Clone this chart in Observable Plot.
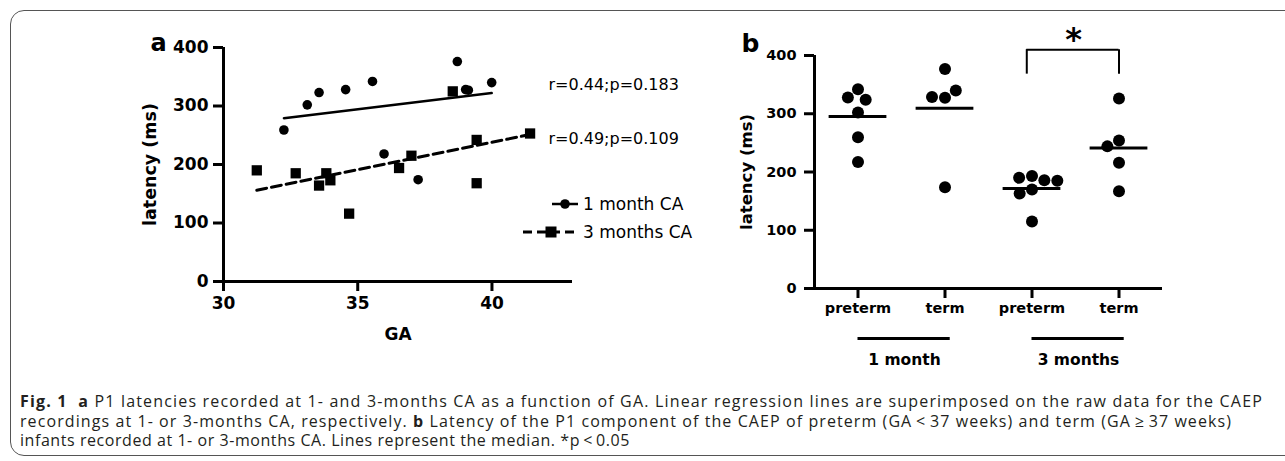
<!DOCTYPE html>
<html><head><meta charset="utf-8">
<script src="https://cdn.jsdelivr.net/npm/d3@7"></script>
<script src="https://cdn.jsdelivr.net/npm/@observablehq/plot@0.6"></script>
<style>
html,body{margin:0;padding:0;background:#fff;}
#wrap{position:relative;width:1285px;height:461px;overflow:hidden;background:#fff;}
#box{position:absolute;left:10px;top:10px;width:1330px;height:446px;border:1px solid #555;border-radius:14px;box-sizing:border-box;}
#pa{position:absolute;left:0;top:0;width:700px;height:340px;}
#pb{position:absolute;left:700px;top:0;}
#cap{position:absolute;left:20px;top:392px;font-family:"Open Sans";font-size:16px;line-height:19.5px;color:#231f20;white-space:nowrap;}
#cap div{white-space:nowrap;display:block;}
#cap span.l{display:inline-block;}
</style></head><body>
<div id="wrap"><div id="box"></div><div id="pa"></div><div id="pb"></div>
<div id="cap">
<div><span class="l" data-w="1243"><b>Fig. 1</b>&nbsp; <b>a</b> P1 latencies recorded at 1- and 3-months CA as a function of GA. Linear regression lines are superimposed on the raw data for the CAEP</span></div>
<div><span class="l" data-w="1212">recordings at 1- or 3-months CA, respectively. <b>b</b> Latency of the P1 component of the CAEP of preterm (GA&#8201;&lt;&#8201;37 weeks) and term (GA&#8201;&ge;&#8201;37 weeks)</span></div>
<div><span class="l" data-w="610">infants recorded at 1- or 3-months CA. Lines represent the median. *p&#8201;&lt;&#8201;0.05</span></div>
</div>
</div>
<script>
// ---------- Panel a data ----------
const gaMonth1 = [32.25, 33.12, 33.56, 34.55, 35.55, 35.98, 37.25, 38.71, 39.02, 39.12, 39.99];
const latMonth1 = [259, 302, 323, 328, 342, 218, 174, 376, 328, 327, 340];
const gaMonth3 = [31.24, 32.69, 33.56, 33.83, 33.98, 34.68, 36.54, 37.0, 38.54, 39.43, 39.43, 41.42];
const latMonth3 = [190, 185, 164, 185, 173, 116, 194, 215, 325, 242, 168, 253];
const xTicksA = [30, 35, 40];
const yTicks = [0, 100, 200, 300, 400];
const statLabels = ["r=0.44;p=0.183", "r=0.49;p=0.109"];
const legendLabels = ["1 month CA", "3 months CA"];

// ---------- Panel b data ----------
const ageGroups = ["1 month", "3 months"];
const termGroups = ["preterm", "term"];
const pre1 = [342, 328, 324, 302, 259.5, 217];
const term1 = [377, 327.6, 328.6, 340, 174];
const pre3 = [115, 170, 163, 193, 190, 186, 185];
const term3 = [326, 254, 167, 244, 216];
const sigLabel = "*";
const sigTop = 410, sigLow = 368;

const FONT = "DejaVu Sans";

// ---------- Panel a ----------
const m1 = gaMonth1.map((g, i) => ({ga: g, lat: latMonth1[i]}));
const m3 = gaMonth3.map((g, i) => ({ga: g, lat: latMonth3[i]}));

const pa = Plot.plot({
  width: 700, height: 340,
  marginLeft: 223, marginRight: 128, marginTop: 47, marginBottom: 59,
  style: {fontFamily: FONT, background: "transparent", overflow: "visible", color: "black"},
  x: {domain: [30, 43]},
  y: {domain: [0, 400]},
  marks: [
    Plot.ruleX([30], {y1: 0, y2: 400, strokeWidth: 3}),
    Plot.ruleY([0], {x1: 30, x2: 43, strokeWidth: 3}),
    Plot.axisX({ticks: xTicksA, tickSize: 10, tickPadding: 5, strokeWidth: 3, fontSize: 17, fontWeight: "bold", label: null}),
    Plot.axisY({ticks: yTicks, tickSize: 10, tickPadding: 5, strokeWidth: 3, fontSize: 17, fontWeight: "bold", label: null}),
    Plot.linearRegressionY(m1, {x: "ga", y: "lat", ci: 0, stroke: "black", strokeWidth: 2.5}),
    Plot.linearRegressionY(m3, {x: "ga", y: "lat", ci: 0, stroke: "black", strokeWidth: 3, strokeDasharray: "10,5"}),
    Plot.dot(m1, {x: "ga", y: "lat", r: 4.8, fill: "black"}),
    Plot.dot(m3, {x: "ga", y: "lat", r: 5.8, symbol: "square", fill: "black"}),
    Plot.text(["GA"], {frameAnchor: "bottom", textAnchor: "middle", lineAnchor: "middle", dy: 53, fontSize: 17, fontWeight: "bold"}),
    Plot.text(["latency (ms)"], {frameAnchor: "left", textAnchor: "middle", lineAnchor: "middle", dx: -73, rotate: -90, fontSize: 17.5, fontWeight: "bold"}),
    Plot.text(["a"], {frameAnchor: "top-left", textAnchor: "middle", lineAnchor: "middle", dx: -65, dy: -4, fontSize: 24, fontWeight: "bold"}),
    Plot.text([statLabels[0]], {frameAnchor: "top-right", textAnchor: "start", lineAnchor: "middle", dx: -24, dy: 37, fontSize: 16}),
    Plot.text([statLabels[1]], {frameAnchor: "top-right", textAnchor: "start", lineAnchor: "middle", dx: -24, dy: 91, fontSize: 16})
  ]
});
document.getElementById("pa").appendChild(pa);

// legend overlay (inside panel a)
const leg = d3.select("#pa").append("svg")
  .attr("width", 700).attr("height", 340)
  .style("position", "absolute").style("left", "0px").style("top", "0px")
  .style("pointer-events", "none");
leg.append("line").attr("x1", 552).attr("x2", 578).attr("y1", 204).attr("y2", 204).attr("stroke", "black").attr("stroke-width", 2.5);
leg.append("circle").attr("cx", 565).attr("cy", 204).attr("r", 4.8).attr("fill", "black");
leg.append("text").attr("x", 583).attr("y", 204).attr("dy", "0.35em").attr("font-family", FONT).attr("font-size", 17).text(legendLabels[0]);
leg.append("line").attr("x1", 523).attr("x2", 578).attr("y1", 232).attr("y2", 232).attr("stroke", "black").attr("stroke-width", 3).attr("stroke-dasharray", "9,5");
leg.append("rect").attr("x", 545.5).attr("y", 226.5).attr("width", 11).attr("height", 11).attr("fill", "black");
leg.append("text").attr("x", 583).attr("y", 232).attr("dy", "0.35em").attr("font-family", FONT).attr("font-size", 17).text(legendLabels[1]);

// ---------- Panel b ----------
const cats = ageGroups.flatMap(g => termGroups.map(t => g + "|" + t));
const series = [pre1, term1, pre3, term3];
const bData = [];
series.forEach((vals, k) => vals.forEach(v => bData.push({cat: cats[k], lat: v})));
const means = cats.map((c, k) => ({cat: c, lat: d3.mean(series[k])}));
const sig = [{from: cats[2], to: cats[3], top: sigTop, low: sigLow, label: sigLabel}];
const firstFacet = [{c: cats[0], t: "latency (ms)", b: "b"}];

const pb = Plot.plot({
  width: 483, height: 380,
  marginLeft: 113, marginRight: 20, marginTop: 55, marginBottom: 92,
  style: {fontFamily: FONT, background: "transparent", overflow: "visible", color: "black"},
  fx: {domain: cats, padding: 0, label: null},
  x: {domain: [0, 1], axis: null},
  y: {domain: [0, 400]},
  marks: [
    Plot.ruleY([0], {strokeWidth: 3}),
    Plot.ruleX(firstFacet, {fx: "c", x: 0, y1: 0, y2: 400, strokeWidth: 3}),
    Plot.axisY({ticks: yTicks, tickSize: 10, tickPadding: 8, strokeWidth: 3, fontSize: 14.5, fontWeight: "bold", label: null}),
    Plot.axisFx({anchor: "bottom", tickSize: 10, tickPadding: 4, strokeWidth: 3, fontSize: 14.5, fontWeight: "bold", label: null, tickFormat: c => c.split("|")[1]}),
    Plot.ruleY(means, {fx: "cat", y: "lat", x1: 0.168, x2: 0.832, strokeWidth: 3}),
    Plot.dot(bData, Plot.dodgeX({anchor: "middle", padding: 1}, {fx: "cat", y: "lat", r: 6, fill: "black"})),
    Plot.ruleY(sig, {fx: "from", y: "top", x1: 0.44, x2: 1, strokeWidth: 2}),
    Plot.ruleY(sig, {fx: "to", y: "top", x1: 0, x2: 0.5, strokeWidth: 2}),
    Plot.ruleX(sig, {fx: "from", x: 0.44, y1: "low", y2: "top", strokeWidth: 2}),
    Plot.ruleX(sig, {fx: "to", x: 0.5, y1: "low", y2: "top", strokeWidth: 2}),
    Plot.text(sig, {fx: "from", x: 1, y: "top", text: "label", textAnchor: "middle", lineAnchor: "bottom", dx: -2, dy: 0, fontSize: 32, fontWeight: "bold"}),
    Plot.ruleY(ageGroups, {fx: g => g + "|preterm", y: 0, dy: 50, x1: 0.5, x2: 1, strokeWidth: 3}),
    Plot.ruleY(ageGroups, {fx: g => g + "|term", y: 0, dy: 50, x1: 0, x2: 0.56, strokeWidth: 3}),
    Plot.text(ageGroups, {fx: g => g + "|preterm", frameAnchor: "bottom-right", textAnchor: "middle", lineAnchor: "middle", dx: 3, dy: 72, fontSize: 15.5, fontWeight: "bold"}),
    Plot.text(firstFacet, {fx: "c", text: "t", frameAnchor: "left", textAnchor: "middle", lineAnchor: "middle", dx: -68, rotate: -90, fontSize: 16.5, fontWeight: "bold"}),
    Plot.text(firstFacet, {fx: "c", text: "b", frameAnchor: "top-left", textAnchor: "middle", lineAnchor: "middle", dx: -64, dy: -12, fontSize: 25, fontWeight: "bold"})
  ]
});
document.getElementById("pb").appendChild(pb);

// fit caption lines to their measured widths
document.querySelectorAll("#cap span.l").forEach(s => {
  const target = +s.dataset.w;
  const w = s.getBoundingClientRect().width;
  const n = s.textContent.length;
  s.style.letterSpacing = ((target - w) / n) + "px";
});
</script>
</body></html>
